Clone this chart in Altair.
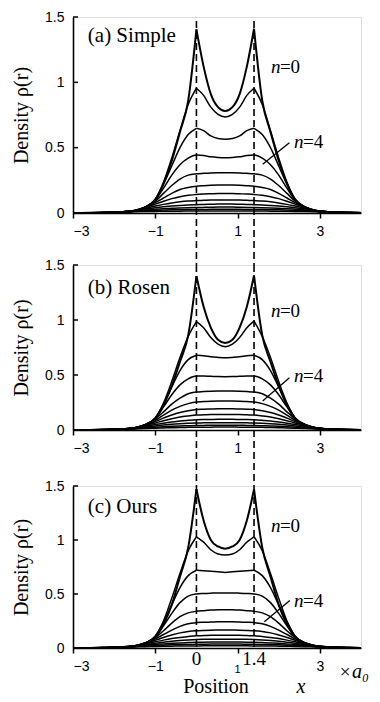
import altair as alt
import pandas as pd

# x positions (units of a0) at which the curves were read
X = [-3, -2.6, -2, -1.5, -1.25, -1, -0.8, -0.6, -0.4, -0.2, 0,
     0.175, 0.35, 0.525, 0.7, 0.875, 1.05, 1.225, 1.4,
     1.6, 1.8, 2.0, 2.2, 2.4, 2.65, 2.9, 3.4, 4.0]

SIMPLE = {
    0: [0.000, 0.001, 0.003, 0.015, 0.040, 0.100, 0.225, 0.400, 0.620, 0.860, 1.405, 1.120, 0.910, 0.810, 0.780, 0.810, 0.910, 1.120, 1.410, 0.860, 0.620, 0.400, 0.225, 0.100, 0.040, 0.015, 0.003, 0.001],
    1: [0.000, 0.001, 0.004, 0.016, 0.042, 0.105, 0.235, 0.420, 0.630, 0.830, 0.955, 0.900, 0.810, 0.755, 0.735, 0.755, 0.810, 0.900, 0.955, 0.830, 0.630, 0.420, 0.235, 0.105, 0.042, 0.016, 0.004, 0.001],
    2: [0.000, 0.001, 0.004, 0.018, 0.045, 0.105, 0.220, 0.360, 0.500, 0.600, 0.648, 0.630, 0.590, 0.570, 0.564, 0.570, 0.590, 0.630, 0.648, 0.600, 0.500, 0.360, 0.220, 0.105, 0.045, 0.018, 0.004, 0.001],
    3: [0.000, 0.001, 0.004, 0.018, 0.045, 0.100, 0.190, 0.290, 0.370, 0.420, 0.444, 0.440, 0.430, 0.425, 0.423, 0.425, 0.430, 0.440, 0.444, 0.420, 0.370, 0.290, 0.190, 0.100, 0.045, 0.018, 0.004, 0.001],
    4: [0.000, 0.001, 0.005, 0.019, 0.045, 0.090, 0.150, 0.210, 0.260, 0.290, 0.300, 0.304, 0.307, 0.308, 0.308, 0.308, 0.307, 0.304, 0.300, 0.290, 0.260, 0.210, 0.150, 0.090, 0.045, 0.019, 0.005, 0.001],
    5: [0.001, 0.002, 0.006, 0.020, 0.045, 0.080, 0.115, 0.150, 0.180, 0.195, 0.205, 0.209, 0.212, 0.214, 0.215, 0.214, 0.212, 0.209, 0.205, 0.195, 0.180, 0.150, 0.115, 0.080, 0.045, 0.020, 0.006, 0.002],
    6: [0.001, 0.002, 0.006, 0.020, 0.042, 0.068, 0.090, 0.110, 0.125, 0.135, 0.142, 0.145, 0.147, 0.149, 0.150, 0.149, 0.147, 0.145, 0.142, 0.135, 0.125, 0.110, 0.090, 0.068, 0.042, 0.020, 0.006, 0.002],
    7: [0.001, 0.002, 0.007, 0.020, 0.037, 0.053, 0.066, 0.077, 0.086, 0.092, 0.095, 0.097, 0.099, 0.100, 0.100, 0.100, 0.099, 0.097, 0.095, 0.092, 0.086, 0.077, 0.066, 0.053, 0.037, 0.020, 0.007, 0.002],
    8: [0.001, 0.002, 0.007, 0.018, 0.030, 0.040, 0.047, 0.053, 0.058, 0.062, 0.064, 0.066, 0.067, 0.068, 0.068, 0.068, 0.067, 0.066, 0.064, 0.062, 0.058, 0.053, 0.047, 0.040, 0.030, 0.018, 0.007, 0.002],
    9: [0.001, 0.002, 0.007, 0.016, 0.023, 0.029, 0.033, 0.036, 0.039, 0.041, 0.042, 0.043, 0.044, 0.045, 0.045, 0.045, 0.044, 0.043, 0.042, 0.041, 0.039, 0.036, 0.033, 0.029, 0.023, 0.016, 0.007, 0.002],
    10: [0.001, 0.002, 0.006, 0.013, 0.017, 0.020, 0.022, 0.024, 0.025, 0.026, 0.026, 0.027, 0.028, 0.028, 0.028, 0.028, 0.028, 0.027, 0.026, 0.026, 0.025, 0.024, 0.022, 0.020, 0.017, 0.013, 0.006, 0.002],
    11: [0.001, 0.002, 0.005, 0.009, 0.011, 0.012, 0.013, 0.014, 0.014, 0.015, 0.015, 0.015, 0.016, 0.016, 0.016, 0.016, 0.016, 0.015, 0.015, 0.015, 0.014, 0.014, 0.013, 0.012, 0.011, 0.009, 0.005, 0.002],
}

ROSEN = {
    0: [0.000, 0.001, 0.003, 0.015, 0.040, 0.100, 0.225, 0.400, 0.620, 0.860, 1.400, 1.120, 0.930, 0.820, 0.790, 0.820, 0.930, 1.120, 1.405, 0.860, 0.620, 0.400, 0.225, 0.100, 0.040, 0.015, 0.003, 0.001],
    1: [0.000, 0.001, 0.004, 0.016, 0.043, 0.108, 0.245, 0.440, 0.660, 0.850, 0.985, 0.930, 0.840, 0.780, 0.757, 0.780, 0.840, 0.930, 0.990, 0.850, 0.660, 0.440, 0.245, 0.108, 0.043, 0.016, 0.004, 0.001],
    2: [0.000, 0.001, 0.004, 0.018, 0.046, 0.110, 0.235, 0.390, 0.540, 0.640, 0.680, 0.675, 0.665, 0.660, 0.657, 0.660, 0.665, 0.675, 0.680, 0.640, 0.540, 0.390, 0.235, 0.110, 0.046, 0.018, 0.004, 0.001],
    3: [0.000, 0.001, 0.004, 0.019, 0.048, 0.110, 0.210, 0.320, 0.410, 0.465, 0.490, 0.490, 0.488, 0.486, 0.485, 0.486, 0.488, 0.490, 0.490, 0.465, 0.410, 0.320, 0.210, 0.110, 0.048, 0.019, 0.004, 0.001],
    4: [0.000, 0.001, 0.005, 0.020, 0.048, 0.100, 0.165, 0.235, 0.290, 0.330, 0.345, 0.349, 0.352, 0.354, 0.355, 0.354, 0.352, 0.349, 0.345, 0.330, 0.290, 0.235, 0.165, 0.100, 0.048, 0.020, 0.005, 0.001],
    5: [0.001, 0.002, 0.006, 0.021, 0.047, 0.088, 0.135, 0.180, 0.215, 0.240, 0.255, 0.258, 0.261, 0.263, 0.264, 0.263, 0.261, 0.258, 0.255, 0.240, 0.215, 0.180, 0.135, 0.088, 0.047, 0.021, 0.006, 0.002],
    6: [0.001, 0.002, 0.006, 0.021, 0.045, 0.077, 0.108, 0.137, 0.160, 0.175, 0.186, 0.189, 0.191, 0.193, 0.194, 0.193, 0.191, 0.189, 0.186, 0.175, 0.160, 0.137, 0.108, 0.077, 0.045, 0.021, 0.006, 0.002],
    7: [0.001, 0.002, 0.007, 0.021, 0.041, 0.064, 0.085, 0.103, 0.118, 0.128, 0.136, 0.138, 0.140, 0.141, 0.142, 0.141, 0.140, 0.138, 0.136, 0.128, 0.118, 0.103, 0.085, 0.064, 0.041, 0.021, 0.007, 0.002],
    8: [0.001, 0.002, 0.007, 0.019, 0.034, 0.049, 0.062, 0.073, 0.082, 0.088, 0.093, 0.095, 0.096, 0.097, 0.097, 0.097, 0.096, 0.095, 0.093, 0.088, 0.082, 0.073, 0.062, 0.049, 0.034, 0.019, 0.007, 0.002],
    9: [0.001, 0.002, 0.007, 0.017, 0.027, 0.037, 0.045, 0.052, 0.057, 0.061, 0.064, 0.065, 0.066, 0.067, 0.067, 0.067, 0.066, 0.065, 0.064, 0.061, 0.057, 0.052, 0.045, 0.037, 0.027, 0.017, 0.007, 0.002],
    10: [0.001, 0.002, 0.006, 0.014, 0.020, 0.026, 0.030, 0.034, 0.037, 0.039, 0.041, 0.042, 0.043, 0.043, 0.043, 0.043, 0.043, 0.042, 0.041, 0.039, 0.037, 0.034, 0.030, 0.026, 0.020, 0.014, 0.006, 0.002],
    11: [0.001, 0.002, 0.005, 0.010, 0.014, 0.017, 0.019, 0.021, 0.023, 0.024, 0.025, 0.026, 0.026, 0.027, 0.027, 0.027, 0.026, 0.026, 0.025, 0.024, 0.023, 0.021, 0.019, 0.017, 0.014, 0.010, 0.005, 0.002],
}

OURS = {
    0: [0.000, 0.001, 0.003, 0.015, 0.040, 0.100, 0.220, 0.400, 0.660, 0.930, 1.470, 1.180, 1.000, 0.940, 0.920, 0.940, 1.000, 1.180, 1.470, 0.930, 0.660, 0.400, 0.220, 0.100, 0.040, 0.015, 0.003, 0.001],
    1: [0.000, 0.001, 0.004, 0.016, 0.043, 0.110, 0.250, 0.460, 0.690, 0.900, 1.030, 0.980, 0.910, 0.870, 0.860, 0.870, 0.910, 0.980, 1.030, 0.900, 0.690, 0.460, 0.250, 0.110, 0.043, 0.016, 0.004, 0.001],
    2: [0.000, 0.001, 0.004, 0.018, 0.045, 0.110, 0.240, 0.400, 0.560, 0.670, 0.720, 0.715, 0.710, 0.705, 0.700, 0.705, 0.710, 0.715, 0.720, 0.670, 0.560, 0.400, 0.240, 0.110, 0.045, 0.018, 0.004, 0.001],
    3: [0.000, 0.001, 0.004, 0.018, 0.046, 0.105, 0.205, 0.320, 0.420, 0.480, 0.500, 0.505, 0.508, 0.510, 0.510, 0.510, 0.508, 0.505, 0.500, 0.480, 0.420, 0.320, 0.205, 0.105, 0.046, 0.018, 0.004, 0.001],
    4: [0.000, 0.001, 0.005, 0.019, 0.046, 0.095, 0.160, 0.230, 0.290, 0.325, 0.340, 0.346, 0.351, 0.354, 0.355, 0.354, 0.351, 0.346, 0.340, 0.325, 0.290, 0.230, 0.160, 0.095, 0.046, 0.019, 0.005, 0.001],
    5: [0.001, 0.002, 0.006, 0.020, 0.046, 0.085, 0.125, 0.165, 0.200, 0.225, 0.235, 0.238, 0.240, 0.242, 0.242, 0.242, 0.240, 0.238, 0.235, 0.225, 0.200, 0.165, 0.125, 0.085, 0.046, 0.020, 0.006, 0.002],
    6: [0.001, 0.002, 0.006, 0.020, 0.043, 0.072, 0.097, 0.120, 0.140, 0.153, 0.160, 0.163, 0.165, 0.166, 0.167, 0.166, 0.165, 0.163, 0.160, 0.153, 0.140, 0.120, 0.097, 0.072, 0.043, 0.020, 0.006, 0.002],
    7: [0.001, 0.002, 0.007, 0.020, 0.038, 0.057, 0.073, 0.087, 0.098, 0.106, 0.113, 0.115, 0.117, 0.118, 0.118, 0.118, 0.117, 0.115, 0.113, 0.106, 0.098, 0.087, 0.073, 0.057, 0.038, 0.020, 0.007, 0.002],
    8: [0.001, 0.002, 0.007, 0.018, 0.031, 0.044, 0.054, 0.062, 0.069, 0.074, 0.078, 0.080, 0.081, 0.082, 0.082, 0.082, 0.081, 0.080, 0.078, 0.074, 0.069, 0.062, 0.054, 0.044, 0.031, 0.018, 0.007, 0.002],
    9: [0.001, 0.002, 0.007, 0.016, 0.025, 0.033, 0.038, 0.043, 0.047, 0.050, 0.053, 0.054, 0.055, 0.056, 0.056, 0.056, 0.055, 0.054, 0.053, 0.050, 0.047, 0.043, 0.038, 0.033, 0.025, 0.016, 0.007, 0.002],
    10: [0.001, 0.002, 0.006, 0.013, 0.018, 0.023, 0.026, 0.029, 0.031, 0.032, 0.034, 0.035, 0.036, 0.036, 0.036, 0.036, 0.036, 0.035, 0.034, 0.032, 0.031, 0.029, 0.026, 0.023, 0.018, 0.013, 0.006, 0.002],
    11: [0.001, 0.002, 0.005, 0.010, 0.012, 0.014, 0.016, 0.017, 0.018, 0.018, 0.019, 0.020, 0.020, 0.021, 0.021, 0.021, 0.020, 0.020, 0.019, 0.018, 0.018, 0.017, 0.016, 0.014, 0.012, 0.010, 0.005, 0.002],
}

Y_TICKS = [0, 0.5, 1, 1.5]
X_TICKS = [-3, -1, 1, 3]
NUCLEI = [0, 1.4]
PANEL_LABELS = ["(a) Simple", "(b) Rosen", "(c) Ours"]
CUSP_CURVES = [0, 1, 2]  # curves drawn with a sharp cusp at the nuclei

SERIF = "Liberation Serif"
SANS = "Liberation Sans"
W = 288

XS = alt.Scale(domain=[-3, 4], nice=False, zero=False)
YS = alt.Scale(domain=[0, 1.5], nice=False, zero=False)


def curves_df(curves):
    rows = []
    for n, vals in curves.items():
        for i, (x, v) in enumerate(zip(X, vals)):
            if n in CUSP_CURVES:
                segs = []
                if x <= 0:
                    segs.append("L")
                if 0 <= x <= 1.4:
                    segs.append("M")
                if x >= 1.4:
                    segs.append("R")
            else:
                segs = ["A"]
            for s in segs:
                rows.append({"x": x, "rho": v, "n": n, "key": f"{n}-{s}", "order": i})
    return pd.DataFrame(rows)


def panel(curves, label, h, rule_top, rule_bottom, lab, last=False):
    if last:
        xlabel = "datum.value == 1 ? '' : (datum.value < 0 ? '\u2212' + abs(datum.value) : '' + datum.value)"
    else:
        xlabel = "datum.value < 0 ? '\u2212' + abs(datum.value) : '' + datum.value"
    xaxis = alt.Axis(values=X_TICKS, title=None, grid=False, labelExpr=xlabel,
                     labelFont=SANS, labelFontSize=14, labelColor="black",
                     tickSize=5, tickColor="black", tickWidth=1.5, labelPadding=6,
                     domainColor="black", domainWidth=1.6)
    yaxis = alt.Axis(values=Y_TICKS, title="Density \u03c1(r)", grid=False,
                     labelExpr="'' + datum.value", labelFont=SANS, labelFontSize=14,
                     labelColor="black", ticks=False, labelPadding=9,
                     domainColor="black", domainWidth=1.6,
                     titleFont=SERIF, titleFontSize=20, titleFontWeight="normal",
                     titleColor="black", titleAngle=270, titleX=-52, titleY=h / 2,
                     titleAlign="center", titleBaseline="middle")
    enc_x = alt.X("x:Q", scale=XS, axis=xaxis)
    enc_y = alt.Y("rho:Q", scale=YS, axis=yaxis)

    df = curves_df(curves)
    lines = alt.Chart(df).mark_line(color="black", interpolate="monotone").encode(
        x=enc_x, y=enc_y, detail="key:N", order="order:Q",
        strokeWidth=alt.condition(alt.datum.n == 0, alt.value(2.0), alt.value(1.5)),
    )

    rules = alt.Chart(pd.DataFrame({"x": NUCLEI})).mark_rule(
        color="black", strokeWidth=1.6, strokeDash=[7, 4]
    ).encode(x=enc_x, y=alt.value(rule_top), y2=alt.value(rule_bottom))

    yt = alt.Chart(pd.DataFrame({"rho": Y_TICKS})).mark_rule(
        color="black", strokeWidth=1.5
    ).encode(y=enc_y, x=alt.value(0), x2=alt.value(5))

    title = alt.Chart(pd.DataFrame({"x": [-2.64], "rho": [lab["title_y"]], "t": [label]})).mark_text(
        font=SERIF, fontSize=21, align="left", baseline="middle", color="black"
    ).encode(x=enc_x, y=enc_y, text="t:N")

    nlab = pd.DataFrame({"x": [1.81, 2.37], "rho": [lab["n0_y"], lab["n4_y"]], "t": ["=0", "=4"]})
    n_it = alt.Chart(nlab).mark_text(
        font=SERIF, fontSize=19, fontStyle="italic", align="left", baseline="middle", color="black"
    ).encode(x=enc_x, y=enc_y, text=alt.value("n"))
    n_rest = alt.Chart(nlab).mark_text(
        font=SERIF, fontSize=19, align="left", baseline="middle", color="black", dx=9
    ).encode(x=enc_x, y=enc_y, text="t:N")

    lead = alt.Chart(pd.DataFrame({"x": [lab["lead"][0]], "x2": [lab["lead"][1]],
                                   "rho": [lab["lead"][2]], "rho2": [lab["lead"][3]]})).mark_rule(
        color="black", strokeWidth=1.3
    ).encode(x=enc_x, x2="x2:Q", y=enc_y, y2="rho2:Q")

    layers = [rules, lines, yt, title, n_it, n_rest, lead]

    if last:
        big = alt.Chart(pd.DataFrame({"x": NUCLEI, "t": ["0", "1.4"]})).mark_text(
            font=SERIF, fontSize=19, baseline="middle", color="black"
        ).encode(x=enc_x, y=alt.value(h + 11), text="t:N")
        one = alt.Chart(pd.DataFrame({"x": [1], "t": ["1"]})).mark_text(
            font=SANS, fontSize=11, baseline="middle", color="black"
        ).encode(x=enc_x, y=alt.value(h + 22), text="t:N")
        pos = alt.Chart(pd.DataFrame({"t": ["Position"]})).mark_text(
            font=SERIF, fontSize=20, baseline="alphabetic", color="black"
        ).encode(x=alt.value(143), y=alt.value(h + 45), text="t:N")
        xv = alt.Chart(pd.DataFrame({"t": ["x"]})).mark_text(
            font=SERIF, fontSize=20, fontStyle="italic", baseline="alphabetic", color="black"
        ).encode(x=alt.value(228), y=alt.value(h + 45), text="t:N")
        times = alt.Chart(pd.DataFrame({"t": ["\u00d7"]})).mark_text(
            font=SERIF, fontSize=19, baseline="middle", color="black"
        ).encode(x=alt.value(272), y=alt.value(h + 24), text="t:N")
        a0 = alt.Chart(pd.DataFrame({"t": ["a\u2080"]})).mark_text(
            font=SERIF, fontSize=20, fontStyle="italic", align="left", baseline="alphabetic", color="black"
        ).encode(x=alt.value(279), y=alt.value(h + 30), text="t:N")
        layers += [big, one, pos, xv, times, a0]

    return alt.layer(*layers).properties(width=W, height=h)


pa = panel(SIMPLE, PANEL_LABELS[0], 196, 4, 196 + 52,
           {"title_y": 1.355, "n0_y": 1.12, "n4_y": 0.54, "lead": [1.61, 2.26, 0.373, 0.538]})
pb = panel(ROSEN, PANEL_LABELS[1], 165, 0, 165 + 56,
           {"title_y": 1.29, "n0_y": 1.08, "n4_y": 0.49, "lead": [1.61, 2.26, 0.264, 0.475]})
pc = panel(OURS, PANEL_LABELS[2], 162, 0, 162,
           {"title_y": 1.31, "n0_y": 1.13, "n4_y": 0.435, "lead": [1.65, 2.27, 0.243, 0.44]}, last=True)

bc = alt.vconcat(pb, pc, spacing=56, bounds="flush")
chart = alt.vconcat(pa, bc, spacing=52, bounds="flush").properties(
    padding={"left": 2, "top": 1, "right": 0, "bottom": 0}
).configure_view(stroke=None).configure(background="white")

chart.save("out.html", embed_options={"renderer": "svg", "actions": False})
